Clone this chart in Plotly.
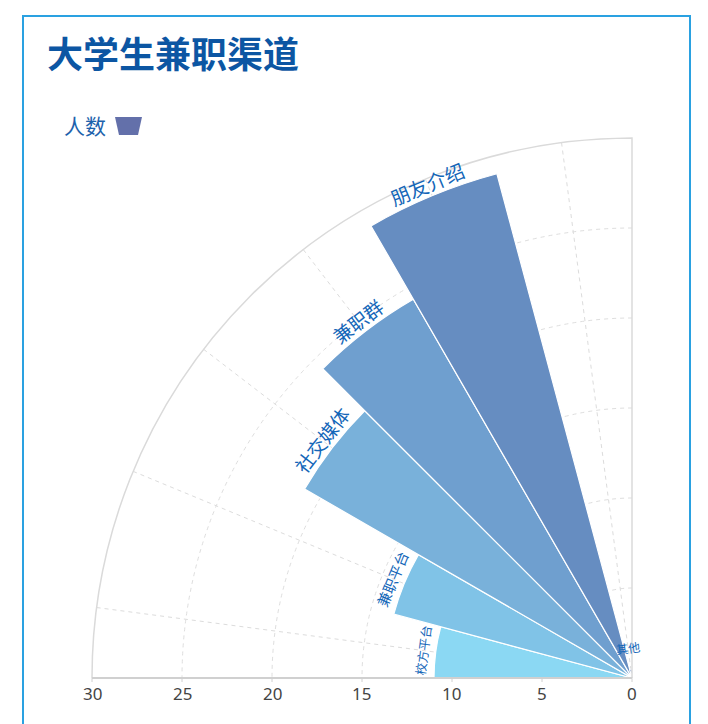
import numpy as np
import plotly.graph_objects as go

# data
channels = ['校方平台', '兼职平台', '社交媒体', '兼职群', '朋友介绍', '其他']
counts = [11, 13.7, 21, 24.3, 29, 0.5]
radial_ticks = [0, 5, 10, 15, 20, 25, 30]

# styles
bar_colors = ['#8bd8f3', '#80c3e7', '#79b1da', '#6f9fcf', '#668dc1', '#5f7cb8']
label_sizes = [12.5, 14.5, 19, 19, 19.5, 12]
legend_color = '#6370aa'
text_blue = '#1366b8'

# the page body has an 8px margin, so the figure sits at (8, 8)
OFF = 8
W, H = 700, 716


def fx(sx):
    return (sx - OFF) / W


def fy(sy):
    return 1 - (sy - OFF) / H


cx, cy, R = 632, 678, 540   # screen centre / radius of the quarter polar
r_max = 30
slot = 15                   # degrees per category
start = 180 - slot / 2      # first category centre

fig = go.Figure()

fig.add_trace(go.Barpolar(
    r=counts,
    theta=channels,
    width=[1] * len(channels),
    marker=dict(color=bar_colors, line=dict(color='white', width=1.2)),
    showlegend=False,
    hovertemplate='%{theta}: %{r}<extra></extra>'
))

# tangential labels just outside each bar
annotations = []
for i, (name, val) in enumerate(zip(channels, counts)):
    ang = start - slot * i
    rp = max(val * R / r_max + 13, 31)
    px = cx + rp * np.cos(np.radians(ang))
    py = cy - rp * np.sin(np.radians(ang))
    annotations.append(dict(
        x=fx(px), y=fy(py), xref='paper', yref='paper',
        text=name, showarrow=False, textangle=-(ang - 90),
        xanchor='center', yanchor='middle',
        font=dict(size=label_sizes[i], color=text_blue)
    ))

# radial tick labels, upright, below the left-pointing radial axis
for t in radial_ticks:
    annotations.append(dict(
        x=fx(cx - t * R / r_max), y=fy(cy + 15), xref='paper', yref='paper',
        text=str(t), showarrow=False, xanchor='center', yanchor='middle',
        font=dict(size=17, color='#444444', family='Noto Sans')
    ))

# legend: "人数" with a trapezoid swatch
annotations.append(dict(
    x=fx(62), y=fy(125), xref='paper', yref='paper', text='人数',
    showarrow=False, xanchor='left', yanchor='middle',
    font=dict(size=21, color='#1d62ac')
))
swatch = 'M {} {} L {} {} L {} {} L {} {} Z'.format(
    fx(115), fy(117), fx(142), fy(117), fx(138), fy(135), fx(119), fy(135))

fig.update_layout(
    width=W, height=H,
    margin=dict(l=0, r=0, t=0, b=0),
    paper_bgcolor='white',
    showlegend=False,
    font=dict(family='Noto Sans CJK SC'),
    title=dict(
        text='<b>大学生兼职渠道</b>',
        x=fx(47), xanchor='left', y=fy(55), yanchor='middle',
        font=dict(size=36, color='#0c56a3', family='Noto Sans CJK SC')
    ),
    polar=dict(
        domain=dict(x=[fx(cx - R), fx(cx)], y=[fy(cy), fy(cy - R)]),
        sector=[90, 180],
        bgcolor='white',
        angularaxis=dict(
            type='category', categoryarray=channels, period=24,
            rotation=start, direction='clockwise',
            showticklabels=False, ticks='',
            showgrid=True, gridcolor='#dcdcdc', griddash='4px,4px', gridwidth=1,
            showline=True, linecolor='#dadada', linewidth=1.5
        ),
        radialaxis=dict(
            range=[0, r_max], tickvals=radial_ticks, angle=180,
            side='counterclockwise', showticklabels=False,
            showline=True, linecolor='#d0d0d0', linewidth=2,
            ticks='outside', ticklen=3, tickcolor='#d0d0d0',
            showgrid=True, gridcolor='#dedede', griddash='4px,4px', gridwidth=1
        )
    ),
    annotations=annotations,
    shapes=[
        dict(type='rect', xref='paper', yref='paper',
             x0=fx(23), x1=fx(690), y0=-0.05, y1=fy(16),
             line=dict(color='#2aa1e1', width=2), layer='below'),
        dict(type='path', xref='paper', yref='paper', path=swatch,
             fillcolor=legend_color, line=dict(width=0))
    ]
)

fig.write_html('out.html')
